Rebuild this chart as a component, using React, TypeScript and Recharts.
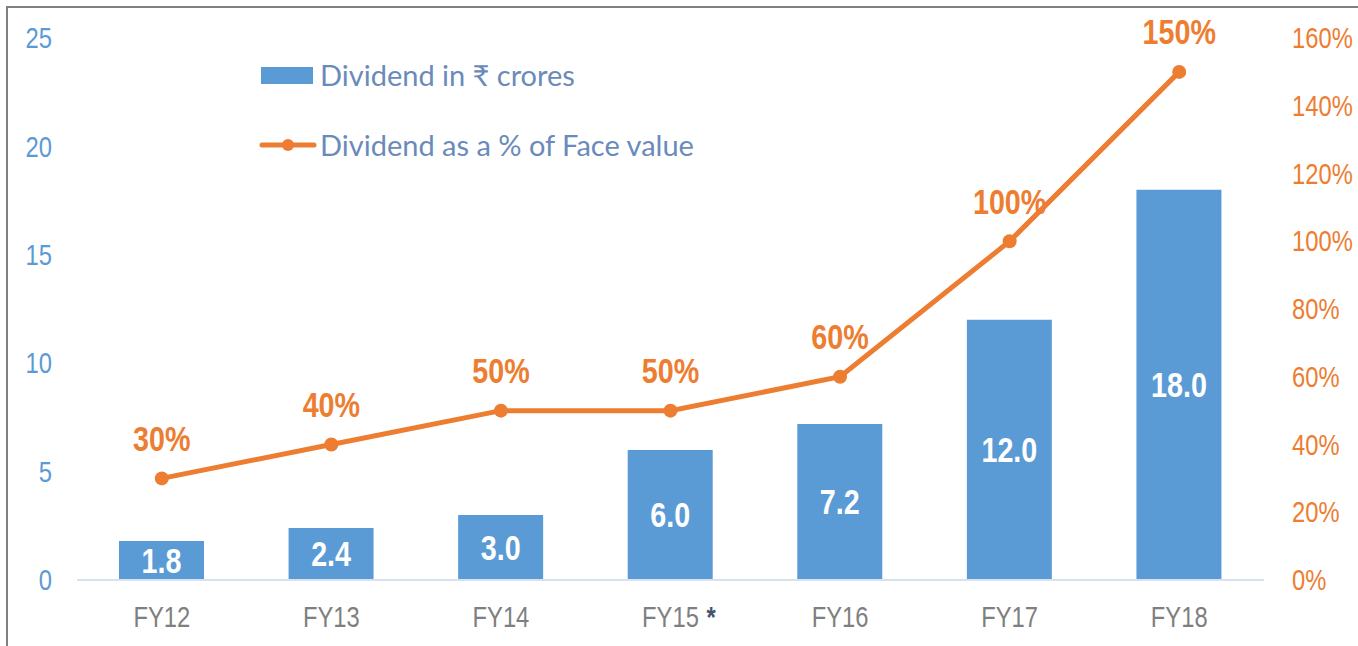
import React from 'react';
import {
  ComposedChart,
  Bar,
  Line,
  XAxis,
  YAxis,
  LabelList,
} from 'recharts';

// Chart values
const years = ['FY12', 'FY13', 'FY14', 'FY15', 'FY16', 'FY17', 'FY18'];
const dividendCrores = [1.8, 2.4, 3.0, 6.0, 7.2, 12.0, 18.0];
const dividendPct = [30, 40, 50, 50, 60, 100, 150];
const footnoted = ['FY15'];
const leftTicks = [0, 5, 10, 15, 20, 25];
const rightTicks = [0, 20, 40, 60, 80, 100, 120, 140, 160];

const data = years.map((year, i) => ({
  year,
  crores: dividendCrores[i],
  pct: dividendPct[i],
}));

const BLUE = '#5B9BD5';
const ORANGE = '#ED7D31';
const FONT = "'Liberation Sans', Arial, sans-serif";
// no Arial Narrow here, so squeeze Arial-like text horizontally
const SQUEEZE = 0.82;

const NText = ({ x, y, anchor = 'middle', dy = '0.35em', size, fill, bold = false, children }: any) => (
  <g transform={`translate(${x},${y}) scale(${SQUEEZE},1)`}>
    <text
      x={0}
      y={0}
      dy={dy}
      textAnchor={anchor}
      fill={fill}
      fontSize={size}
      fontWeight={bold ? 'bold' : 'normal'}
      fontFamily={FONT}
    >
      {children}
    </text>
  </g>
);

const XTick = (props: any) => {
  const { x, y, payload } = props;
  const hasStar = footnoted.includes(payload.value);
  return (
    <g>
      <NText x={x} y={y} dy="0.71em" size={29} fill="#7F7F7F">
        {payload.value}
      </NText>
      {hasStar && (
        <NText x={x + 36} y={y} dy="0.71em" anchor="start" size={29} fill="#44546A" bold>
          *
        </NText>
      )}
    </g>
  );
};

const LeftTick = (props: any) => {
  const { x, y, payload } = props;
  return (
    <NText x={x} y={y} anchor="end" size={29} fill={BLUE}>
      {payload.value}
    </NText>
  );
};

const RightTick = (props: any) => {
  const { x, y, payload } = props;
  return (
    <NText x={x} y={y} anchor="start" size={29} fill={ORANGE}>
      {`${payload.value}%`}
    </NText>
  );
};

const BarValue = (props: any) => {
  const { x, y, width, height, value } = props;
  return (
    <NText x={x + width / 2} y={y + height / 2} size={35} fill="#FFFFFF" bold>
      {Number(value).toFixed(1)}
    </NText>
  );
};

const PctLabel = (props: any) => {
  const { x, y, value } = props;
  return (
    <NText x={x} y={y - 40} size={35} fill={ORANGE} bold>
      {`${value}%`}
    </NText>
  );
};

const ChartLegend = () => (
  <div
    style={{
      position: 'absolute',
      left: 261,
      top: 58,
      fontFamily: "Lato, 'Noto Sans', sans-serif",
      fontSize: 29,
      color: '#6A8BBA',
      lineHeight: '34px',
    }}
  >
    <div style={{ display: 'flex', alignItems: 'center', height: 34 }}>
      <div style={{ width: 52, height: 17, background: BLUE, marginRight: 7 }} />
      <span>Dividend in ₹ crores</span>
    </div>
    <div style={{ display: 'flex', alignItems: 'center', height: 34, marginTop: 36 }}>
      <svg width={58} height={16} style={{ marginLeft: -2, marginRight: 3 }}>
        <line x1={3} y1={8} x2={55} y2={8} stroke={ORANGE} strokeWidth={5} strokeLinecap="round" />
        <circle cx={29} cy={8} r={6} fill={ORANGE} />
      </svg>
      <span>Dividend as a % of Face value</span>
    </div>
  </div>
);

export default function App() {
  return (
    <div style={{ position: 'absolute', left: 0, top: 0, width: 1358, height: 646, background: '#fff' }}>
      <div
        style={{
          position: 'absolute',
          left: 6,
          top: 6,
          right: 0,
          bottom: 0,
          borderTop: '2px solid #808080',
          borderLeft: '2px solid #808080',
        }}
      />
      <div style={{ position: 'absolute', left: 0, top: 0 }}>
        <ComposedChart
          width={1358}
          height={646}
          data={data}
          margin={{ top: 38, right: 24, bottom: 0, left: 8 }}
        >
          <XAxis
            dataKey="year"
            tick={<XTick />}
            tickLine={false}
            tickSize={0}
            tickMargin={26}
            axisLine={{ stroke: '#D9E1F0', strokeWidth: 2 }}
            height={66}
          />
          <YAxis
            yAxisId="left"
            domain={[0, 25]}
            ticks={leftTicks}
            width={69}
            axisLine={false}
            tickLine={false}
            tickSize={0}
            tickMargin={25}
            tick={<LeftTick />}
          />
          <YAxis
            yAxisId="right"
            orientation="right"
            domain={[0, 160]}
            ticks={rightTicks}
            width={70}
            axisLine={false}
            tickLine={false}
            tickSize={0}
            tickMargin={28}
            tick={<RightTick />}
          />
          <Bar
            yAxisId="left"
            dataKey="crores"
            name="Dividend in ₹ crores"
            fill={BLUE}
            barSize={85}
            isAnimationActive={false}
          >
            <LabelList dataKey="crores" content={<BarValue />} />
          </Bar>
          <Line
            yAxisId="right"
            dataKey="pct"
            name="Dividend as a % of Face value"
            type="linear"
            stroke={ORANGE}
            strokeWidth={5}
            dot={{ r: 7, fill: ORANGE, stroke: ORANGE, strokeWidth: 0 }}
            activeDot={false}
            isAnimationActive={false}
          >
            <LabelList dataKey="pct" content={<PctLabel />} />
          </Line>
        </ComposedChart>
      </div>
      <ChartLegend />
    </div>
  );
}
